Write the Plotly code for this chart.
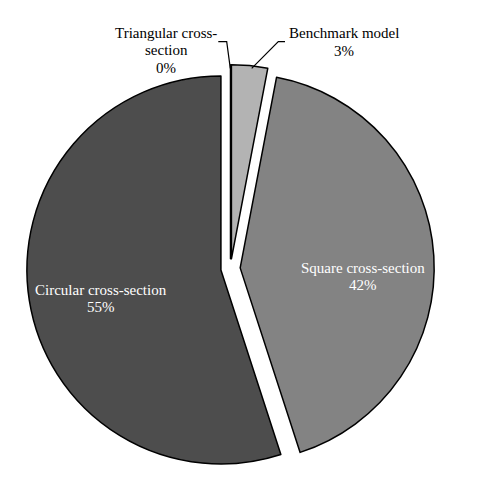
import plotly.graph_objects as go

categories = ["Benchmark model", "Square cross-section", "Circular cross-section", "Triangular cross-section"]
values = [3, 42, 55, 0]
label_lines = [["Benchmark model", "3%"], ["Square cross-section", "42%"],
               ["Circular cross-section", "55%"], ["Triangular cross-", "section", "0%"]]
colors = ["#b3b3b3", "#838383", "#4d4d4d", "#ffffff"]

OFF = 8          # page body margin
W = H = 491 - OFF
FONT = "Liberation Serif, Times New Roman, serif"

def px(x):
    return (x - OFF) / W

def py(y):
    return 1 - (y - OFF) / H

# pie box in page pixels
cx, cy, half = 230.5, 268.5, 203.7

fig = go.Figure(go.Pie(
    labels=categories, values=values, sort=False, direction="clockwise", rotation=0,
    pull=[0.05] * 4, textinfo="none", hoverinfo="label+percent",
    marker=dict(colors=colors, line=dict(color="black", width=1.5)),
    domain=dict(x=[px(cx - half), px(cx + half)], y=[py(cy + half), py(cy - half)]),
    showlegend=False,
))

centers = [(344, 42), (363, 276.5), (100.5, 298.5), (166, 50.5)]
tcolors = ["black", "white", "white", "black"]
spacing = 17.5
ann = []
for lines, (lx, ly), tc in zip(label_lines, centers, tcolors):
    n = len(lines)
    for i, t in enumerate(lines):
        yy = ly + (i - (n - 1) / 2) * spacing
        ann.append(dict(x=px(lx), y=py(yy), xref="paper", yref="paper", text=t,
                        showarrow=False, xanchor="center", yanchor="middle",
                        font=dict(family=FONT, size=15, color=tc)))

def path(pts):
    return "M " + " L ".join(f"{px(x)},{py(y)}" for x, y in pts)

shapes = [
    dict(type="path", xref="paper", yref="paper", path=path([(285, 41.7), (278.3, 41.7), (251.7, 68.3)]),
         line=dict(color="black", width=1.2)),
    dict(type="path", xref="paper", yref="paper", path=path([(218.3, 41.7), (226.7, 41.7), (230.3, 68.3)]),
         line=dict(color="black", width=1.2)),
]

fig.update_layout(width=W, height=H, margin=dict(l=0, r=0, t=0, b=0),
                  paper_bgcolor="white", plot_bgcolor="white",
                  annotations=ann, shapes=shapes)
fig.write_html("out.html")
